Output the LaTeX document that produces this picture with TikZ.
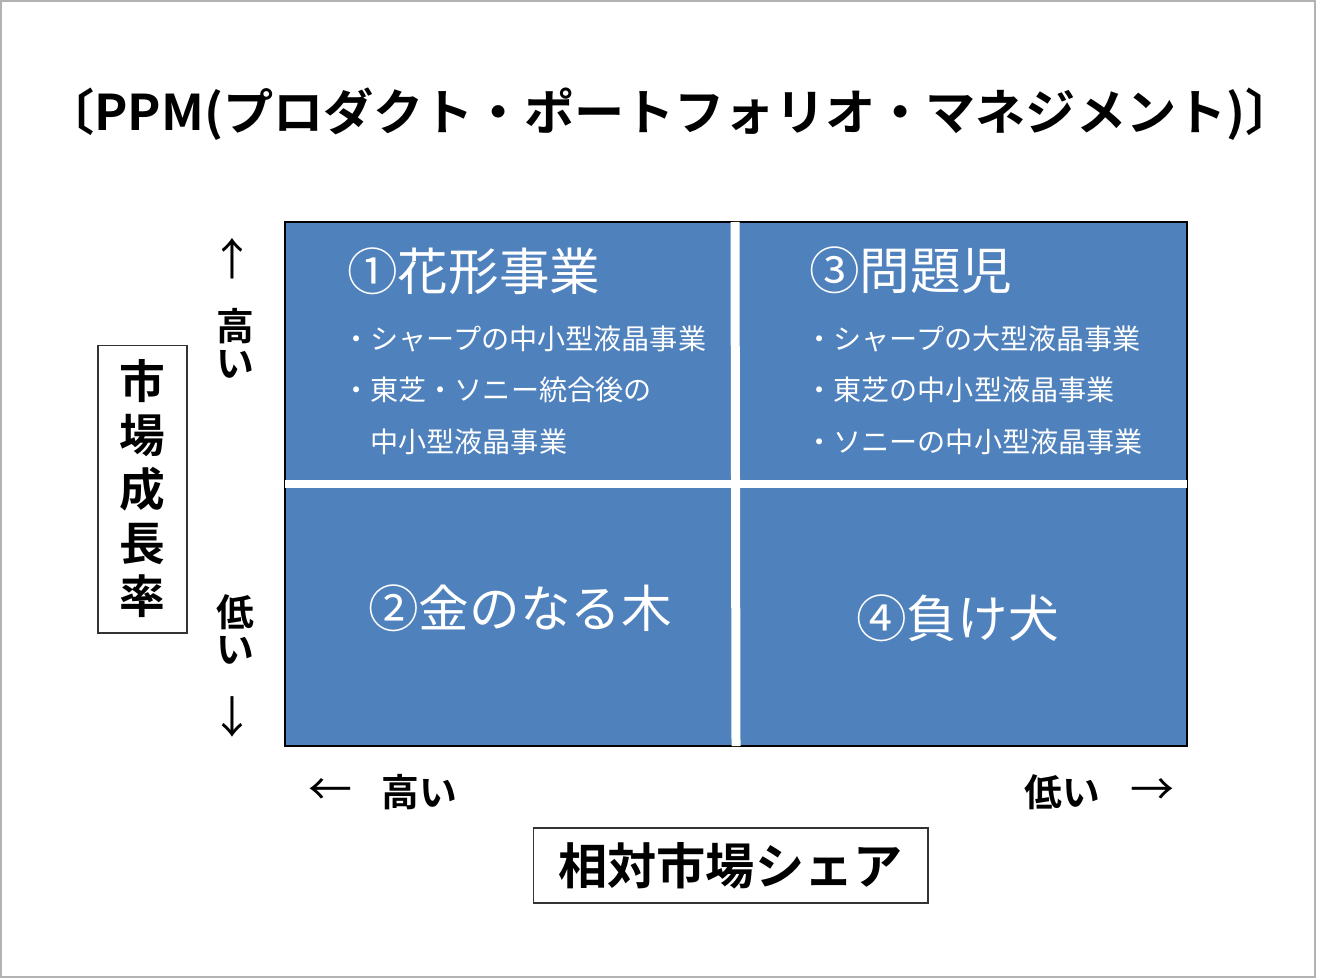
\documentclass[tikz,border=0pt]{standalone}
\usepackage{fontspec}
\setmainfont{Noto Sans CJK JP}[BoldFont={Noto Sans CJK JP Bold}]
\newfontfamily\titlefont{Noto Sans CJK JP Bold}[FakeStretch=1.02]
\definecolor{cellblue}{HTML}{4F81BD}

\begin{document}
\begin{tikzpicture}[x=0.02cm,y=-0.02cm]
		\tikzset{head/.style={anchor=west,text=white,inner sep=0pt,font=\fontsize{28.8}{34}\selectfont}};
		\tikzset{item/.style={anchor=west,text=white,inner sep=0pt,font=\fontsize{16}{19}\selectfont}};
		\tikzset{side/.style={inner sep=0pt,align=center,font=\bfseries\fontsize{21.5}{21}\selectfont}};
		\tikzset{pointer/.style={inner sep=0pt,font=\fontsize{25}{25}\selectfont}};
		\tikzset{axisbox/.style={draw=black!80,line width=0.6pt,inner sep=0pt,align=center}};
		
		\useasboundingbox (0,0) rectangle (1317,979);
		\draw [black!30,line width=0.8pt] (1,1) rectangle (1315,977);
		
		% title
		\node (title) at (670,114) [inner sep=0pt,font=\titlefont\fontsize{28}{34}\selectfont]{〔PPM(プロダクト・ポートフォリオ・マネジメント)〕};
		
		% matrix
		\draw [fill=cellblue,line width=1.2pt] (285,222) rectangle (1187,746);
		\draw [white,line width=0.16cm] (285,484)--(1187,484);
		\draw [white,line width=0.18cm] (735,222)--(736,746);
		
		\node (star) at (347,271) [head]{①花形事業};
		\node (s1) at (342,339) [item]{・シャープの中小型液晶事業};
		\node (s2) at (342,390) [item]{・東芝・ソニー統合後の};
		\node (s3) at (370,442) [item]{中小型液晶事業};
		
		\node (problem) at (809,270) [head]{③問題児};
		\node (p1) at (805,339) [item]{・シャープの大型液晶事業};
		\node (p2) at (805,390) [item]{・東芝の中小型液晶事業};
		\node (p3) at (805,442) [item]{・ソニーの中小型液晶事業};
		
		\node (cash) at (368,608) [head]{②金のなる木};
		\node (dog) at (856,618) [head]{④負け犬};
		
		% vertical axis
		\node (vup) at (232,259) [pointer]{↑};
		\node (vhigh) at (235,343) [side]{高\\い};
		\node (vlow) at (235,629) [side]{低\\い};
		\node (vdown) at (232,717) [pointer]{↓};
		\node (growth) at (142.5,489) [axisbox,minimum width=1.78cm,minimum height=5.76cm,
			font=\bfseries\fontsize{26}{30.6}\selectfont]{市\\場\\成\\長\\率};
		
		% horizontal axis
		\node (hleft) at (330,792) [pointer]{←};
		\node (hhigh) at (419,792) [side]{高い};
		\node (hlow) at (1062,792) [side]{低い};
		\node (hright) at (1152,792) [pointer]{→};
		\node (share) at (730.5,865.5) [axisbox,minimum width=7.9cm,minimum height=1.5cm,
			font=\bfseries\fontsize{28}{34}\selectfont]{相対市場シェア};
		\end{tikzpicture}
\end{document}
